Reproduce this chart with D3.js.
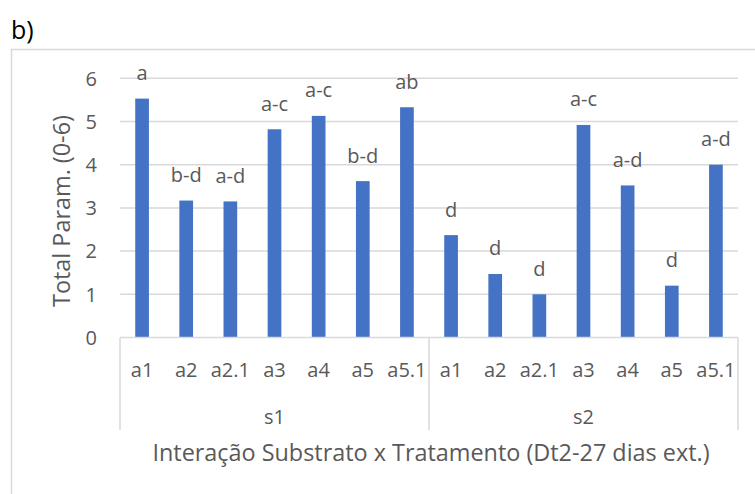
<!DOCTYPE html>
<html><head><meta charset="utf-8">
<script src="https://cdn.jsdelivr.net/npm/d3@7"></script>
<style>body{margin:0;background:#fff}svg{display:block}text{font-family:"Open Sans",sans-serif;fill:#595959}</style>
</head><body><svg id="c" width="755" height="494"></svg>
<script>
const groups = ["s1", "s2"];
const treatments = ["a1", "a2", "a2.1", "a3", "a4", "a5", "a5.1"];
const valuesS1 = [5.53, 3.17, 3.15, 4.82, 5.13, 3.62, 5.33];
const valuesS2 = [2.37, 1.47, 1.0, 4.92, 3.52, 1.2, 4.0];
const lettersS1 = ["a", "b-d", "a-d", "a-c", "a-c", "b-d", "ab"];
const lettersS2 = ["d", "d", "d", "a-c", "a-d", "d", "a-d"];
const yTicks = [0, 1, 2, 3, 4, 5, 6];

const rows = [];
[[valuesS1, lettersS1], [valuesS2, lettersS2]].forEach(([vals, lets], g) => {
  treatments.forEach((t, i) => rows.push({key: groups[g] + "-" + t, group: groups[g], t, v: vals[i], lab: lets[i]}));
});

const svg = d3.select("#c");
const L = 120, R = 738, T = 78.3, B = 337.5;
const x = d3.scaleBand().domain(rows.map(d => d.key)).range([L, R]).paddingInner(0.69).paddingOuter(0.345);
const y = d3.scaleLinear().domain([0, 6]).range([B, T]);

// chart border
svg.append("rect").attr("x", 11.5).attr("y", 49.5).attr("width", 800).attr("height", 600)
  .attr("fill", "none").attr("stroke", "#d9d9d9").attr("stroke-width", 1.5);

svg.append("text").text("b)").attr("x", 11).attr("y", 39).style("font-size", "25px").style("fill", "#000");

// gridlines
svg.append("g").selectAll("line").data(yTicks.filter(d => d > 0)).join("line")
  .attr("x1", L).attr("x2", R).attr("y1", d => y(d)).attr("y2", d => y(d))
  .attr("stroke", "#d9d9d9").attr("stroke-width", 1.5);

// y tick labels
svg.append("g").selectAll("text").data(yTicks).join("text")
  .attr("x", 97).attr("y", d => y(d)).attr("dy", "0.36em").attr("text-anchor", "end")
  .style("font-size", "20px").text(d => d);

// y title
svg.append("text").attr("transform", `translate(70,211) rotate(-90)`)
  .attr("text-anchor", "middle").style("font-size", "23.4px").text("Total Param. (0-6)");

// bars
svg.append("g").selectAll("rect").data(rows).join("rect")
  .attr("x", d => x(d.key)).attr("width", x.bandwidth())
  .attr("y", d => y(d.v)).attr("height", d => B - y(d.v)).attr("fill", "#4472c4");

// labels
svg.append("g").selectAll("text").data(rows).join("text")
  .attr("x", d => x(d.key) + x.bandwidth() / 2).attr("y", d => y(d.v) - 18.5)
  .attr("text-anchor", "middle").style("font-size", "20px").text(d => d.lab);

// axis line
svg.append("line").attr("x1", L).attr("x2", R).attr("y1", B).attr("y2", B)
  .attr("stroke", "#d9d9d9").attr("stroke-width", 1.5);

// group separators
const step = x.step();
const sepX = [L, L + step * treatments.length, R];
svg.append("g").selectAll("line").data(sepX).join("line")
  .attr("x1", d => d).attr("x2", d => d).attr("y1", B).attr("y2", 430)
  .attr("stroke", "#d9d9d9").attr("stroke-width", 1.5);

// category labels
svg.append("g").selectAll("text").data(rows).join("text")
  .attr("x", d => x(d.key) + x.bandwidth() / 2).attr("y", 376.5)
  .attr("text-anchor", "middle").style("font-size", "20px").text(d => d.t);

svg.append("g").selectAll("text").data(groups).join("text")
  .attr("x", (d, i) => (sepX[i] + sepX[i + 1]) / 2).attr("y", 424.3)
  .attr("text-anchor", "middle").style("font-size", "20px").text(d => d);

svg.append("text").attr("x", 431).attr("y", 461).attr("text-anchor", "middle")
  .style("font-size", "23.4px").text("Interação Substrato x Tratamento (Dt2-27 dias ext.)");
</script></body></html>
